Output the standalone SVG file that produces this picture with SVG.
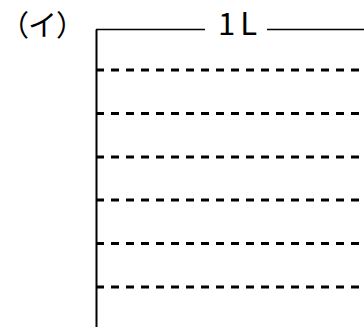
<svg xmlns="http://www.w3.org/2000/svg" width="364" height="327" viewBox="0 0 364 327">
<style>
.t{font-family:"Noto Sans CJK JP","Liberation Sans",sans-serif;fill:#000}
.solid{stroke:#000;fill:none}
.dash{stroke:#000;stroke-width:2.8;stroke-dasharray:8 7;fill:none}
</style>
<rect width="364" height="327" fill="#fff"/>
<g id="label">
<text class="t" x="0" y="36" font-size="29" letter-spacing="-1">（イ）</text>
</g>
<g id="title">
<text class="t" x="240" y="35" font-size="31" text-anchor="middle" letter-spacing="5">1L</text>
</g>
<g id="lines">
<path class="solid" stroke-width="2" d="M96.5,29.5V327"/>
<path class="solid" stroke-width="1.5" d="M96,29.5H205M267,29.5H364"/>
<path class="dash" d="M96,70H364M96,113.5H364M96,157H364M96,200H364M96,243.5H364M96,287H364"/>
</g>
</svg>
